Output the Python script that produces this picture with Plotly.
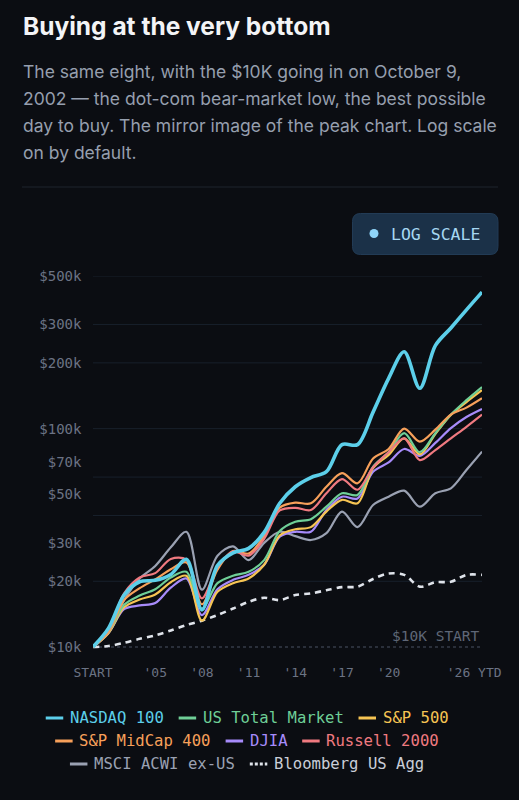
import math
import plotly.graph_objects as go

# Data: growth of $10K invested on Oct 9, 2002 (values in $K)
year_labels = ["START", "'02", "'03", "'04", "'05", "'06", "'07", "'08", "'09", "'10",
               "'11", "'12", "'13", "'14", "'15", "'16", "'17", "'18", "'19", "'20",
               "'21", "'22", "'23", "'24", "'25", "'26 YTD"]
tick_idx = [0, 4, 7, 10, 13, 16, 19, 25]

nasdaq100 = [10, 12.2, 17.3, 19.9, 20.2, 21.5, 25.2, 14.8, 23.6, 27.0, 28.3, 33.5, 45.5,
             54.2, 59.7, 63.5, 84.5, 84.5, 119, 170, 225, 153, 240, 289, 350, 422]
us_total = [10, 11.7, 15.6, 17.2, 18.4, 20.8, 22.1, 15.0, 19.6, 21.2, 22.1, 25.0, 34.0,
            37.5, 38.5, 43.9, 50.6, 49.7, 67, 78, 95.3, 78, 95.3, 116, 135, 155]
sp500 = [10, 11.6, 15.2, 16.5, 17.4, 19.8, 21.2, 13.2, 17.9, 19.6, 20.6, 23.8, 32.4,
         34.6, 35.4, 41.7, 47.2, 45.5, 65.9, 75.8, 90.3, 76.2, 94.5, 115.5, 132.4, 150]
midcap400 = [10, 11.7, 16.4, 18.6, 20.4, 22.7, 24.4, 15.7, 22.6, 27.5, 26.8, 32.2, 43.5,
             45.8, 45.5, 54.2, 62.5, 56.2, 73, 80.7, 100, 87.2, 98.9, 116, 124.8, 137.8]
djia = [10, 11.6, 14.9, 15.5, 15.9, 18.7, 20.6, 14.0, 18.4, 20.3, 21.4, 23.8, 32.0,
        33.7, 33.7, 42.4, 48.8, 47.9, 63.5, 70.1, 80.7, 75.0, 86, 100.5, 113, 123]
russell2000 = [10, 12.0, 17.6, 20.8, 21.8, 25.3, 25.1, 16.7, 23.2, 27.4, 26.2, 31.3, 42.2,
               43.4, 42.4, 50.6, 58.7, 52.5, 66.5, 78, 90.3, 71.8, 79.8, 90.3, 102, 116]
msci_exus = [10, 11.8, 16.4, 20.6, 23.5, 28.6, 33.7, 18.3, 26.2, 28.9, 25.0, 30.0, 33.7,
             32.2, 30.9, 33.2, 41.7, 35.4, 44.7, 48.8, 52, 43.9, 50.6, 53.3, 64.7, 78.5]
bbg_agg = [10, 10.1, 10.45, 10.9, 11.3, 11.9, 12.6, 13.2, 14.0, 15.0, 16.1, 16.8, 16.4,
           17.3, 17.6, 18.2, 18.8, 18.9, 20.5, 21.7, 21.4, 18.9, 19.8, 19.9, 21.4, 21.4]

y_tick_vals = [10000, 20000, 30000, 50000, 70000, 100000, 200000, 300000, 500000]
y_tick_text = ["$10k", "$20k", "$30k", "$50k", "$70k", "$100k", "$200k", "$300k", "$500k"]
grid_vals = [20000, 40000, 60000, 100000, 200000, 300000, 500000]

# name, values, line colour, width, dash, legend row, z-order
series = [
    ("NASDAQ 100", nasdaq100, "#5ccfea", 3.6, "solid", 0, 10),
    ("US Total Market", us_total, "#6fcf97", 2.2, "solid", 0, 5),
    ("S&P 500", sp500, "#f6c453", 2.2, "solid", 0, 4),
    ("S&P MidCap 400", midcap400, "#f7a05a", 2.2, "solid", 1, 6),
    ("DJIA", djia, "#a78bfa", 2.2, "solid", 1, 3),
    ("Russell 2000", russell2000, "#f07a80", 2.2, "solid", 1, 7),
    ("MSCI ACWI ex-US", msci_exus, "#9aa1b2", 2.2, "solid", 2, 2),
    ("Bloomberg US Agg", bbg_agg, "#dfe3ea", 2.6, "6px,5px", 2, 1),
]
label_colors = {"MSCI ACWI ex-US": "#9aa1b2", "Bloomberg US Agg": "#c9ced8"}

W, H = 519, 800
L, R, T, B = 93, 482, 276, 657


def px(x):
    return (x - L) / (R - L)


def py(y):
    return (B - y) / (B - T)


mono = "DejaVu Sans Mono"
bg = "#0b0d12"

fig = go.Figure()
xs = list(range(len(year_labels)))

# $10K start baseline
fig.add_trace(go.Scatter(x=[xs[0], xs[-1]], y=[10000, 10000], mode="lines",
                         line=dict(color="#4b5262", width=1, dash="3px,3px"),
                         showlegend=False, hoverinfo="skip", zorder=0))

for name, vals, color, width, dash, row, z in series:
    fig.add_trace(go.Scatter(
        x=xs, y=[v * 1000 for v in vals], mode="lines", name=name,
        line=dict(color=color, width=width, dash=dash, shape="spline", smoothing=0.9),
        showlegend=False, zorder=z,
    ))

shapes = []
for g in grid_vals:
    shapes.append(dict(type="line", xref="paper", yref="y", x0=0, x1=1, y0=g, y1=g,
                       line=dict(color="#18202b", width=1), layer="below"))
# separator under the intro text
shapes.append(dict(type="line", xref="paper", yref="paper", x0=px(22), x1=px(498),
                   y0=py(187), y1=py(187), line=dict(color="#1f242d", width=1)))

# rounded toggle button
bx0, bx1, by0, by1, rad = 352.5, 498, 213.5, 254.5, 8
path = (f"M {px(bx0 + rad)} {py(by0)} L {px(bx1 - rad)} {py(by0)} "
        f"Q {px(bx1)} {py(by0)} {px(bx1)} {py(by0 + rad)} L {px(bx1)} {py(by1 - rad)} "
        f"Q {px(bx1)} {py(by1)} {px(bx1 - rad)} {py(by1)} L {px(bx0 + rad)} {py(by1)} "
        f"Q {px(bx0)} {py(by1)} {px(bx0)} {py(by1 - rad)} L {px(bx0)} {py(by0 + rad)} "
        f"Q {px(bx0)} {py(by0)} {px(bx0 + rad)} {py(by0)} Z")
shapes.append(dict(type="path", xref="paper", yref="paper", path=path,
                   fillcolor="#1b3148", line=dict(color="#223b55", width=1)))
shapes.append(dict(type="circle", xref="paper", yref="paper",
                   x0=px(369.5), x1=px(378.5), y0=py(229), y1=py(238),
                   fillcolor="#8fd4f8", line=dict(width=0)))

annotations = [
    dict(text="<b>Buying at the very bottom</b>", x=px(21), y=py(26), xanchor="left",
         yanchor="middle", font=dict(family="Inter", size=24.5, color="#f3f4f6")),
    dict(text="LOG SCALE", x=px(389), y=py(234), xanchor="left", yanchor="middle",
         font=dict(family=mono, size=16.5, color="#a6d7f2")),
    dict(text="$10K START", x=px(482), y=py(636), xanchor="right", yanchor="middle",
         font=dict(family=mono, size=14.5, color="#5f6777")),
]
intro = ["The same eight, with the $10K going in on October 9,",
         "2002 \u2014 the dot-com bear-market low, the best possible",
         "day to buy. The mirror image of the peak chart. Log scale",
         "on by default."]
for i, line in enumerate(intro):
    annotations.append(dict(text=line, x=px(21), y=py(71 + i * 27.1), xanchor="left",
                            yanchor="middle",
                            font=dict(family="Inter", size=17.5, color="#969fae")))

# legend: three centred rows of swatch + coloured label
leg_size = 15.6
char_w = 0.602 * leg_size
swatch, sw_gap, item_gap = 17.5, 6.5, 15
row_y = [718, 741, 764]
for row in range(3):
    items = [s for s in series if s[5] == row]
    widths = [swatch + sw_gap + len(s[0]) * char_w for s in items]
    x0 = 247 - (sum(widths) + item_gap * (len(items) - 1)) / 2
    for s, w in zip(items, widths):
        name, color, dash = s[0], s[2], s[4]
        shapes.append(dict(type="line", xref="paper", yref="paper",
                           x0=px(x0), x1=px(x0 + swatch), y0=py(row_y[row]), y1=py(row_y[row]),
                           line=dict(color=color, width=3,
                                     dash="3px,2px" if dash != "solid" else "solid")))
        annotations.append(dict(text=name, x=px(x0 + swatch + sw_gap - 1), y=py(row_y[row]),
                                xanchor="left", yanchor="middle", borderpad=0,
                                font=dict(family=mono, size=leg_size,
                                          color=label_colors.get(name, color))))
        x0 += w + item_gap

for a in annotations:
    a.update(xref="paper", yref="paper", showarrow=False)

# last tick label sits a little left of its point, as in the original
tick_text = [year_labels[i] for i in tick_idx]
tick_text[-1] = tick_text[-1] + "\u00a0\u00a0"

fig.update_layout(
    width=W, height=H, autosize=False,
    margin=dict(l=L, r=W - R, t=T, b=H - B),
    paper_bgcolor=bg, plot_bgcolor=bg,
    shapes=shapes, annotations=annotations,
    showlegend=False, hovermode=False,
)
fig.update_xaxes(range=[0, len(year_labels) - 1], tickvals=tick_idx, ticktext=tick_text,
                 showgrid=False, zeroline=False, showline=True, linecolor="#1e2632",
                 linewidth=1.5, ticks="", ticklabelstandoff=3, automargin=False,
                 tickfont=dict(family=mono, size=13, color="#6b7384"))
fig.update_yaxes(type="log", range=[math.log10(9000), math.log10(500000)],
                 tickvals=y_tick_vals, ticktext=y_tick_text,
                 showgrid=False, zeroline=False, showline=True, linecolor="#1e2632",
                 linewidth=1.5, ticks="", ticklabelstandoff=7, automargin=False,
                 tickfont=dict(family=mono, size=14, color="#6b7384"))

fig.write_html("out.html", config={"displayModeBar": False},
               post_script="document.body.style.margin = '0';")
